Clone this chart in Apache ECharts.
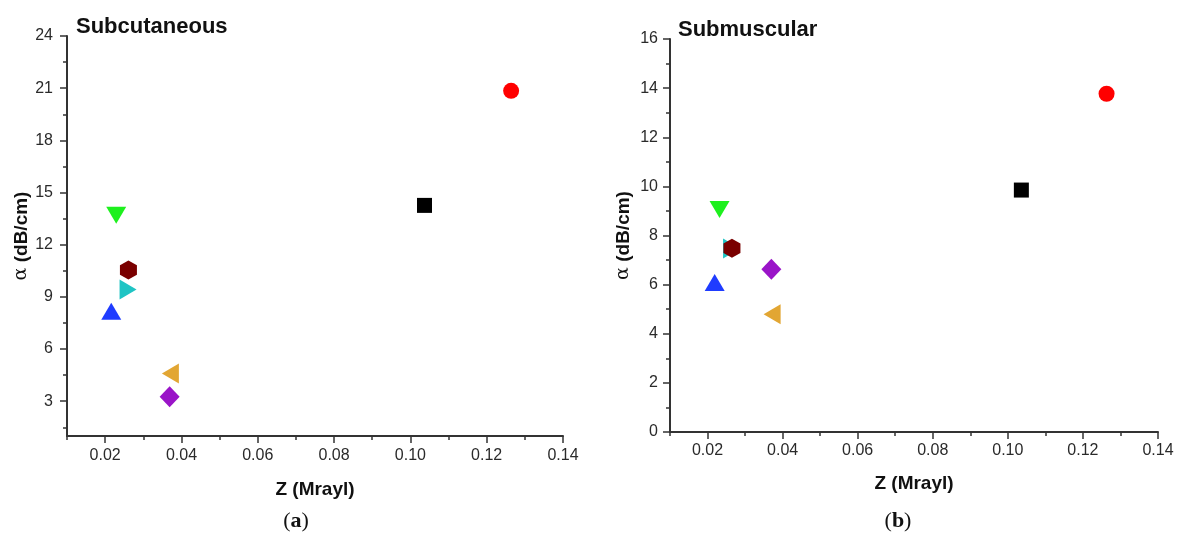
<!DOCTYPE html>
<html>
<head>
<meta charset="utf-8">
<script src="https://cdn.jsdelivr.net/npm/echarts@6/dist/echarts.min.js"></script>
<style>
html,body{margin:0;padding:0;background:#fff;}
#chart{width:1181px;height:541px;}
</style>
</head>
<body>
<div id="chart"></div>
<script>
// ---- Data ----
const markerNames = ['Red circle', 'Black square', 'Green down-triangle', 'Cyan right-triangle', 'Dark red hexagon', 'Blue up-triangle', 'Orange left-triangle', 'Purple diamond'];
// Subcutaneous (a)
const zSub = [0.1264, 0.1037, 0.0229, 0.0260, 0.0261, 0.0216, 0.0371, 0.0369];
const aSub = [20.85, 14.26, 13.70, 9.43, 10.54, 8.18, 4.60, 3.25];
// Submuscular (b)
const zMus = [0.1263, 0.1036, 0.0232, 0.0264, 0.0265, 0.0219, 0.0372, 0.0370];
const aMus = [13.77, 9.85, 9.06, 7.47, 7.48, 6.09, 4.79, 6.63];
// Tick values
const xMajorTicks = [0.02, 0.04, 0.06, 0.08, 0.10, 0.12, 0.14];
const xMinorTicks = [0.01, 0.03, 0.05, 0.07, 0.09, 0.11, 0.13];
const ySubMajorTicks = [3, 6, 9, 12, 15, 18, 21, 24];
const ySubMinorTicks = [1.5, 4.5, 7.5, 10.5, 13.5, 16.5, 19.5, 22.5];
const yMusMajorTicks = [0, 2, 4, 6, 8, 10, 12, 14, 16];
const yMusMinorTicks = [1, 3, 5, 7, 9, 11, 13, 15];

// ---- Styles ----
const FONT = 'Arial, "Liberation Sans", sans-serif';
const SERIF = '"Liberation Serif", "DejaVu Serif", serif';
const hexPath = 'path://M0,-1 L0.866,-0.5 L0.866,0.5 L0,1 L-0.866,0.5 L-0.866,-0.5 Z';
const markerStyles = [
  {symbol: 'circle', size: 16, rotate: 0, color: '#ff0000'},
  {symbol: 'rect', size: 15, rotate: 0, color: '#000000'},
  {symbol: 'triangle', size: [20, 17], rotate: 180, color: '#1ef01e'},
  {symbol: 'triangle', size: [20, 17], rotate: -90, color: '#1fc4c4'},
  {symbol: hexPath, size: [17, 19], rotate: 0, color: '#7a0000'},
  {symbol: 'triangle', size: [20, 17], rotate: 0, color: '#1f3cff'},
  {symbol: 'triangle', size: [20, 17], rotate: 90, color: '#e2a633'},
  {symbol: 'diamond', size: [20, 21], rotate: 0, color: '#9a14c8'}
];

const AX = '#333';

function xAxes(gridIndex, nameGap, labelMargin) {
  return [
    {
      gridIndex, type: 'value', min: 0.01, max: 0.14, position: 'bottom',
      axisLine: {show: true, onZero: false, lineStyle: {color: AX, width: 2}},
      axisTick: {show: true, customValues: xMajorTicks, length: 7, lineStyle: {color: AX, width: 1.5}},
      axisLabel: {customValues: xMajorTicks, formatter: v => v.toFixed(2), color: '#2a2a2a', fontSize: 16, fontFamily: FONT, margin: labelMargin},
      splitLine: {show: false},
      name: 'Z (Mrayl)', nameLocation: 'middle', nameGap,
      nameTextStyle: {fontWeight: 'bold', fontSize: 19, color: '#111', fontFamily: FONT}
    },
    {
      gridIndex, type: 'value', min: 0.01, max: 0.14, position: 'bottom',
      axisLine: {show: false},
      axisTick: {show: true, customValues: xMinorTicks, length: 4, lineStyle: {color: AX, width: 1.5}},
      axisLabel: {show: false}, splitLine: {show: false}
    }
  ];
}

function yAxes(gridIndex, min, max, major, minor, nameGap, labelMargin) {
  return [
    {
      gridIndex, type: 'value', min, max, position: 'left',
      axisLine: {show: true, onZero: false, lineStyle: {color: AX, width: 2}},
      axisTick: {show: true, customValues: major, length: 7, lineStyle: {color: AX, width: 1.5}},
      axisLabel: {customValues: major, color: '#2a2a2a', fontSize: 16, fontFamily: FONT, margin: labelMargin},
      splitLine: {show: false},
      name: '{a|α} {b|(dB/cm)}', nameLocation: 'middle', nameGap, nameRotate: 90,
      nameTextStyle: {
        color: '#111', fontFamily: FONT, fontSize: 19,
        rich: {
          a: {fontSize: 19, fontFamily: '"DejaVu Serif", serif', color: '#111'},
          b: {fontSize: 19, fontWeight: 'bold', fontFamily: FONT, color: '#111'}
        }
      }
    },
    {
      gridIndex, type: 'value', min, max, position: 'left',
      axisLine: {show: false},
      axisTick: {show: true, customValues: minor, length: 4, lineStyle: {color: AX, width: 1.5}},
      axisLabel: {show: false}, splitLine: {show: false}
    }
  ];
}

function buildSeries(xs, ys, axisOffset) {
  return markerNames.map((name, i) => ({
    name, type: 'scatter',
    xAxisIndex: axisOffset, yAxisIndex: axisOffset,
    symbol: markerStyles[i].symbol,
    symbolSize: markerStyles[i].size,
    symbolRotate: markerStyles[i].rotate,
    itemStyle: {color: markerStyles[i].color, opacity: 1},
    emphasis: {disabled: true},
    data: [[xs[i], ys[i]]],
    z: 3 + i
  }));
}

function panelLabel(letter, x, y) {
  return {
    type: 'text', x, y,
    style: {
      text: '({b|' + letter + '})',
      rich: {b: {fontWeight: 'bold', fontSize: 22, fontFamily: SERIF, fill: '#111'}},
      fontSize: 22, fontFamily: SERIF, fill: '#111', align: 'center', verticalAlign: 'middle'
    }
  };
}

const chart = echarts.init(document.getElementById('chart'), null, {renderer: 'canvas'});
const option = {
  backgroundColor: '#ffffff',
  animation: false,
  title: [
    {text: 'Subcutaneous', left: 71, top: 11, textStyle: {fontWeight: 'bold', fontSize: 22, color: '#111', fontFamily: FONT}},
    {text: 'Submuscular', left: 673, top: 14, textStyle: {fontWeight: 'bold', fontSize: 22, color: '#111', fontFamily: FONT}}
  ],
  grid: [
    {left: 67, top: 36, width: 496, height: 400},
    {left: 670, top: 39, width: 488, height: 393}
  ],
  xAxis: [...xAxes(0, 44, 12), ...xAxes(1, 42, 11)],
  yAxis: [...yAxes(0, 1, 24, ySubMajorTicks, ySubMinorTicks, 36, 14), ...yAxes(1, 0, 16, yMusMajorTicks, yMusMinorTicks, 37, 12)],
  series: [...buildSeries(zSub, aSub, 0), ...buildSeries(zMus, aMus, 2)],
  graphic: [panelLabel('a', 296, 521), panelLabel('b', 898, 521)]
};
chart.setOption(option);
</script>
</body>
</html>
